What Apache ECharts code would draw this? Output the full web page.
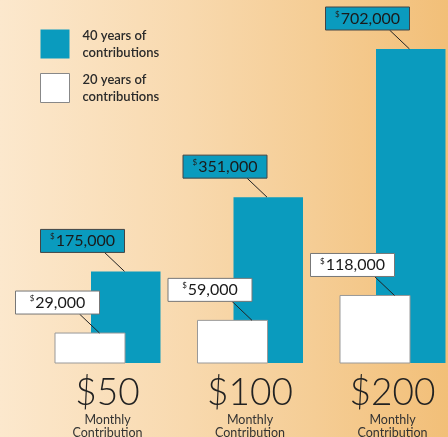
<!DOCTYPE html>
<html>
<head>
<meta charset="utf-8">
<script src="https://cdn.jsdelivr.net/npm/echarts@6/dist/echarts.min.js"></script>
<style>
  html, body { margin: 0; padding: 0; }
  #chart { width: 448px; height: 437px; }
</style>
</head>
<body>
<div id="chart"></div>
<script>
// monthly contribution categories
const categories = ['$50', '$100', '$200']
const subLabel = ['Monthly', 'Contribution']
const seriesNames = ['40 years of\ncontributions', '20 years of\ncontributions']
// account value after 40 / 20 years
const values40 = [175000, 351000, 702000]
const values20 = [29000, 59000, 118000]
// the bars in the picture start below zero
const axisMin = -42000
const axisMax = 702000

const TEAL = '#0a9bbe'
const FONT = 'Lato, "Open Sans", sans-serif'

const chart = echarts.init(document.getElementById('chart'))

// bar + callout box, everything placed from api.coord
function makeRender(opts) {
  return function(params, api) {
    const idx = api.value(0)
    const val = api.value(1)
    const top = api.coord([idx, val])
    const base = api.coord([idx, axisMin])
    const c = top[0]
    const x0 = c + opts.from
    const w = opts.width
    const xe = c + opts.tip + (opts.nudge ? opts.nudge[params.dataIndex] : 0)
    const boxW = 84
    const boxH = 23
    const boxB = top[1] - 19
    return {
      type: 'group',
      children: [{
        type: 'rect',
        shape: { x: x0, y: top[1], width: w, height: base[1] - top[1] },
        style: { fill: opts.fill, stroke: opts.barStroke, lineWidth: opts.barStroke ? 1 : 0 }
      }, {
        type: 'line',
        shape: { x1: xe - 20, y1: boxB, x2: xe, y2: top[1] },
        style: { stroke: '#222', lineWidth: 1 }
      }, {
        type: 'rect',
        shape: { x: xe - boxW, y: boxB - boxH, width: boxW, height: boxH },
        style: { fill: opts.fill, stroke: opts.boxStroke, lineWidth: 1 }
      }, {
        type: 'text',
        x: xe - boxW / 2,
        y: boxB - boxH / 2,
        style: {
          text: '{s|$}{n|' + echarts.format.addCommas(val) + '}',
          align: 'center',
          verticalAlign: 'middle',
          rich: {
            s: { fontSize: 8, fontFamily: FONT, fill: '#222', verticalAlign: 'top', padding: [0, 1, 6, 0] },
            n: { fontSize: 16, fontFamily: FONT, fill: '#1a1a1a' }
          }
        }
      }]
    }
  }
}

const option = {
  backgroundColor: {
    type: 'linear', x: 0, y: 0, x2: 1, y2: 0,
    colorStops: [
      { offset: 0, color: '#fce8cd' },
      { offset: 0.42, color: '#f8d9ae' },
      { offset: 0.7, color: '#f5cd95' },
      { offset: 1, color: '#f2bf78' }
    ]
  },
  grid: {
    left: 36.25,
    right: -15.75,
    top: 49,
    bottom: 74,
    containLabel: false,
    outerBoundsMode: 'none'
  },
  legend: {
    orient: 'vertical',
    left: 40,
    top: 27,
    padding: 0,
    itemWidth: 29,
    itemHeight: 29,
    itemGap: 10,
    selectedMode: false,
    textStyle: { fontSize: 13, lineHeight: 17, color: '#2a2a2a', fontWeight: 600, fontFamily: FONT, padding: [0, 0, 0, 8] },
    data: [
      { name: seriesNames[0], icon: 'rect', itemStyle: { color: TEAL, borderWidth: 0 } },
      { name: seriesNames[1], icon: 'rect', itemStyle: { color: '#fff', borderColor: '#888', borderWidth: 1 } }
    ]
  },
  xAxis: {
    type: 'category',
    data: categories,
    axisLine: { show: false },
    axisTick: { show: false },
    axisLabel: {
      margin: 10,
      interval: 0,
      formatter: v => '{big|' + v + '}\n{small|' + subLabel.join('}\n{small|') + '}',
      rich: {
        big: { fontSize: 37, fontWeight: 300, lineHeight: 40, color: '#222', fontFamily: FONT },
        small: { fontSize: 12.5, lineHeight: 13, color: '#333', fontFamily: FONT }
      }
    }
  },
  yAxis: {
    type: 'value',
    min: axisMin,
    max: axisMax,
    show: false,
    splitLine: { show: false }
  },
  series: [{
    name: seriesNames[0],
    type: 'custom',
    color: TEAL,
    z: 2,
    data: values40.map((v, i) => [i, v]),
    renderItem: makeRender({ from: -16.5, width: 69.5, tip: 17, fill: TEAL, boxStroke: '#444' })
  }, {
    name: seriesNames[1],
    type: 'custom',
    color: '#fff',
    z: 3,
    data: values20.map((v, i) => [i, v]),
    renderItem: makeRender({ from: -52.5, width: 70, tip: 2, nudge: [-10, 0, 0], fill: '#fff', barStroke: '#999', boxStroke: '#777' })
  }]
}

chart.setOption(option)
</script>
</body>
</html>
